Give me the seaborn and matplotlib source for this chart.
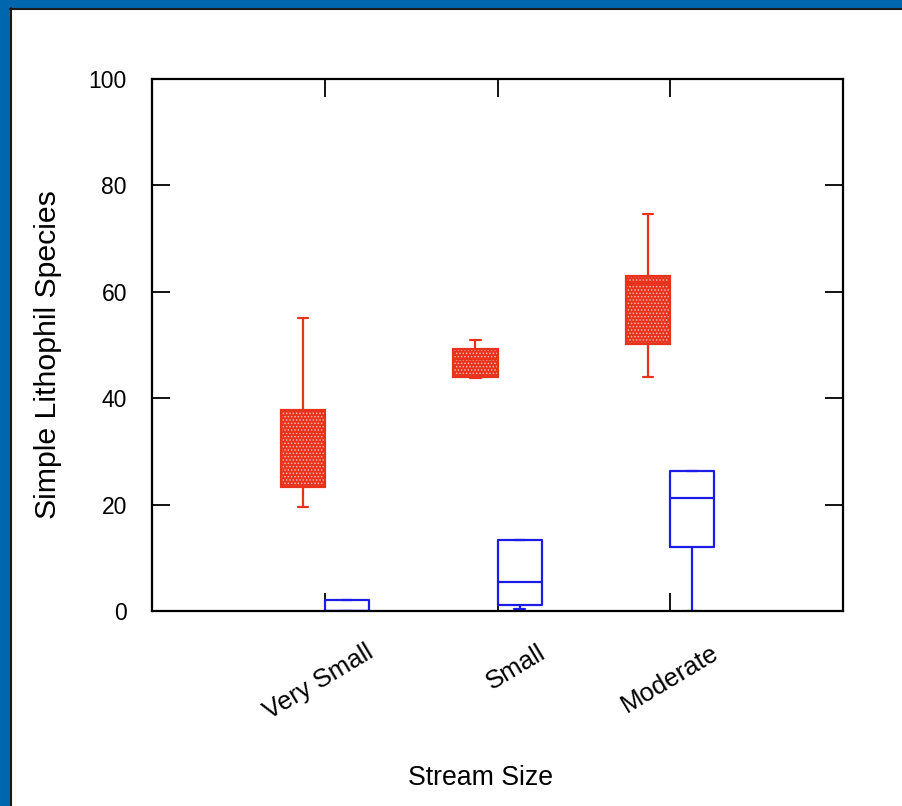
import numpy as np
import pandas as pd
import seaborn as sns
import matplotlib.pyplot as plt
from matplotlib.patches import Rectangle
from matplotlib.lines import Line2D
from matplotlib.transforms import ScaledTranslation

# five-number summaries: min, Q1, median, Q3, max
sizes = ['Very Small', 'Small', 'Moderate']
groups = ['red', 'blue']

red_vs = [19.5, 23.3, 33.7, 37.8, 55.1]
red_s = [43.8, 44.0, 47.3, 49.3, 50.9]
red_m = [44.0, 50.2, 61.7, 63.0, 74.6]

blue_vs = [0.0, 0.0, 0.0, 2.0, 2.0]
blue_s = [0.3, 1.1, 5.5, 13.3, 13.3]
blue_m = [0.0, 12.1, 21.2, 26.4, 26.4]

rows = []
for g, vals in [('red', [red_vs, red_s, red_m]), ('blue', [blue_vs, blue_s, blue_m])]:
    for s, v in zip(sizes, vals):
        for x in v:
            rows.append({'size': s, 'group': g, 'value': x})
df = pd.DataFrame(rows)

sns.set_style("white")
plt.rcParams['font.family'] = ['Liberation Sans', 'DejaVu Sans']
plt.rcParams['hatch.linewidth'] = 0.7

fig = plt.figure(figsize=(9.02, 8.06), dpi=100)
ax = fig.add_axes([152 / 902, 1 - 611 / 806, 691 / 902, 532 / 806])

RED = '#e8321c'
BLUE = '#1c1ce6'

# red boxes (filled)
sns.boxplot(data=df[df.group == 'red'], x='size', y='value', hue='group',
            order=sizes, hue_order=groups, palette={'red': RED, 'blue': BLUE},
            width=0.51, gap=0, dodge=True, whis=(0, 100), fill=True,
            linecolor=RED, linewidth=1.6, legend=False, ax=ax)
for p in ax.patches:
    p.set_facecolor(RED)
    p.set_hatch('.....')
    p._hatch_color = (1, 1, 1, 0.6)

# blue boxes (outline only)
sns.boxplot(data=df[df.group == 'blue'], x='size', y='value', hue='group',
            order=sizes, hue_order=groups, palette={'red': RED, 'blue': BLUE},
            width=0.51, gap=0, dodge=True, whis=(0, 100), fill=False,
            linewidth=1.6, legend=False, ax=ax)

# short whisker caps like the original
for ln in ax.lines:
    xs, ys = np.asarray(ln.get_xdata(), float), np.asarray(ln.get_ydata(), float)
    if len(xs) == 2 and ys[0] == ys[1] and 0 < abs(xs[1] - xs[0]) < 0.2:
        c = xs.mean()
        ln.set_xdata([c - 0.03, c + 0.03])

ax.set_xlim(-1, 3)
ax.set_ylim(0, 100)
ax.set_yticks([0, 20, 40, 60, 80, 100])
ax.set_xticks([0, 1, 2])
ax.set_xticklabels(sizes)
ax.tick_params(axis='both', direction='in', length=13, width=1.3, color='black',
               left=True, bottom=True, top=True, right=True, labelcolor='black')
ax.tick_params(axis='y', pad=18, labelsize=16.5)
ax.tick_params(axis='x', pad=21, labelsize=18.5)
for lab in ax.get_xticklabels():
    lab.set_rotation(31)
    lab.set_rotation_mode('anchor')
    lab.set_ha('right')
    lab.set_va('top')
    lab.set_transform(lab.get_transform() + ScaledTranslation(0.40, 0, fig.dpi_scale_trans))

for sp in ax.spines.values():
    sp.set_visible(True)
    sp.set_color('black')
    sp.set_linewidth(1.6)

ax.set_xlabel('Stream Size', fontsize=19.2, color='black', va='center')
ax.xaxis.set_label_coords((480 - 152) / 691, -(778 - 611) / 532)
ax.set_ylabel('Simple Lithophil Species', fontsize=21.8, color='black', va='center')
ax.yaxis.set_label_coords(-(152 - 48) / 691, (611 - 355) / 532)

# blue frame on top and left
frame = '#0067ae'
fig.patches.append(Rectangle((0, 1 - 8 / 806), 1, 8 / 806, transform=fig.transFigure,
                             color=frame, zorder=0))
fig.patches.append(Rectangle((0, 0), 10 / 902, 1, transform=fig.transFigure,
                             color=frame, zorder=0))
fig.lines.append(Line2D([10 / 902, 1], [1 - 8.5 / 806] * 2, transform=fig.transFigure,
                        color='#1a1a1a', lw=1.5))
fig.lines.append(Line2D([10.5 / 902] * 2, [0, 1 - 8 / 806], transform=fig.transFigure,
                        color='#1a1a1a', lw=1.5))

fig.savefig('out.png', dpi=100, facecolor='white')
